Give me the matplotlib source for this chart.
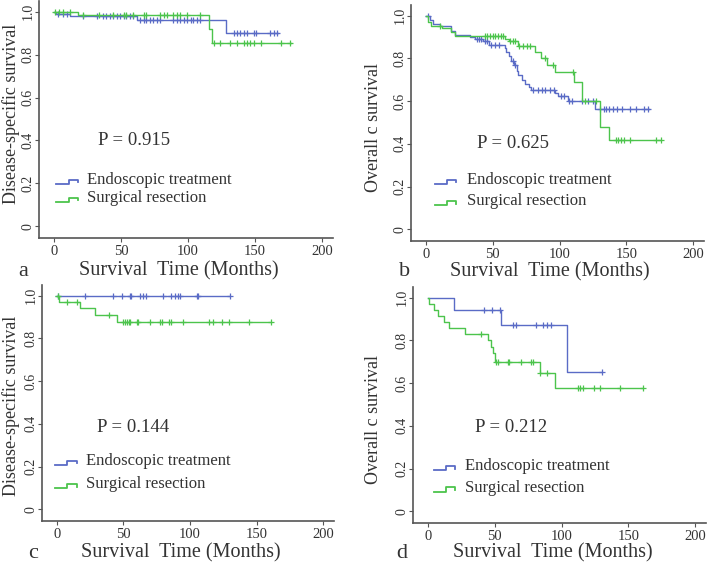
import numpy as np
import matplotlib
matplotlib.use("Agg")
import matplotlib.pyplot as plt

plt.rcParams["font.family"] = ["Liberation Serif", "DejaVu Serif"]

BLUE = "#5a6bc6"
GREEN = "#4cc44c"
TXT = "#333333"
AX = "#555555"

groups = ["Endoscopic treatment", "Surgical resection"]
x_ticks = [0, 50, 100, 150, 200]
y_ticks = [0, 0.2, 0.4, 0.6, 0.8, 1.0]
y_tick_labels = ["0", "0.2", "0.4", "0.6", "0.8", "1.0"]
panel_letters = ["a", "b", "c", "d"]
y_titles = ["Disease-specific survival", "Overall c survival",
            "Disease-specific survival", "Overall c survival"]
p_values = ["P = 0.915", "P = 0.625", "P = 0.144", "P = 0.212"]

# panel a
a_endo_t = [0, 2, 12, 62, 128.5]
a_endo_s = [1.0, 0.99, 0.98, 0.962, 0.90]
a_endo_end = 167
a_endo_cens = [3, 7, 9.5, 22, 32, 37, 39, 42, 44, 47, 49, 52, 54, 57, 59, 64, 67, 69,
               72, 74, 77, 79, 89, 92, 94, 97, 99, 102, 104, 107, 109, 134, 136.5, 139,
               141.5, 144, 149, 151, 161, 164, 166]
a_surg_t = [0, 18, 116, 117.5]
a_surg_s = [1.0, 0.983, 0.92, 0.852]
a_surg_end = 177
a_surg_cens = [1, 4, 7, 12, 22, 34, 44, 52, 54, 59, 67, 69, 79, 82, 84, 89, 92, 94, 99,
               109, 119, 124, 131.5, 136.5, 141.5, 144, 146.5, 149, 154, 169, 176]

# panel b
b_endo_t = [0, 3, 5.5, 11, 19, 22, 33, 37, 43, 47, 59, 60, 62, 64, 66, 68, 69, 72, 74,
            77, 79, 96.5, 99, 106.5, 126.5]
b_endo_s = [1.0, 0.98, 0.96, 0.95, 0.93, 0.91, 0.90, 0.89, 0.88, 0.865, 0.85, 0.83, 0.81,
            0.79, 0.77, 0.74, 0.72, 0.70, 0.68, 0.665, 0.65, 0.64, 0.625, 0.60, 0.565]
b_endo_end = 167
b_endo_cens = [2, 38, 40, 41, 44, 46, 49, 52, 55, 65, 67, 80, 84, 87, 89, 93, 96, 101,
               103, 107, 109, 117, 121, 125, 130, 133, 135, 137, 140, 143, 147, 153, 157,
               163, 166]
b_surg_t = [0, 2, 4, 12, 19, 22, 59, 62, 69, 81.5, 86.5, 91, 97, 111, 117, 130, 137]
b_surg_s = [1.0, 0.97, 0.95, 0.94, 0.925, 0.905, 0.89, 0.88, 0.86, 0.83, 0.80, 0.77,
            0.735, 0.69, 0.60, 0.48, 0.42]
b_surg_end = 176
b_surg_cens = [11, 44, 46, 48, 50, 52, 54, 56, 58, 63, 65, 67, 70, 73, 76, 78, 89, 95,
               110, 119, 127, 142, 144, 146, 148, 153, 172, 176]

# panel c
c_endo_t = [0]
c_endo_s = [1.0]
c_endo_end = 130
c_endo_cens = [1.25, 21, 42.5, 49, 55, 56, 62.5, 65, 67, 80, 86, 89, 91, 92.5, 105, 106, 130]
c_surg_t = [0, 1.75, 17.5, 29, 45]
c_surg_s = [1.0, 0.97, 0.94, 0.91, 0.875]
c_surg_end = 161
c_surg_cens = [1.25, 7.5, 15, 39.5, 50, 51, 52.5, 54, 55, 60, 61, 70, 77.5, 79, 84, 86,
               95, 114, 117.5, 124, 129, 144, 161]

# panel d
d_endo_t = [0, 20, 55, 104]
d_endo_s = [1.0, 0.94, 0.87, 0.65]
d_endo_end = 130
d_endo_cens = [42, 48, 54, 64, 66, 81, 86, 89, 92.5, 130]
d_surg_t = [0, 1, 5, 7.5, 12.5, 16, 27.5, 45, 47.5, 49, 50.5, 84, 95]
d_surg_s = [1.0, 0.97, 0.94, 0.915, 0.885, 0.86, 0.83, 0.80, 0.77, 0.74, 0.70, 0.645, 0.575]
d_surg_end = 161
d_surg_cens = [39.5, 51, 52.5, 60, 61, 70, 77.5, 79, 84, 89, 112, 114, 116, 124, 129, 144, 161]

panels = [
    [(a_endo_t, a_endo_s, a_endo_end, a_endo_cens), (a_surg_t, a_surg_s, a_surg_end, a_surg_cens)],
    [(b_endo_t, b_endo_s, b_endo_end, b_endo_cens), (b_surg_t, b_surg_s, b_surg_end, b_surg_cens)],
    [(c_endo_t, c_endo_s, c_endo_end, c_endo_cens), (c_surg_t, c_surg_s, c_surg_end, c_surg_cens)],
    [(d_endo_t, d_endo_s, d_endo_end, d_endo_cens), (d_surg_t, d_surg_s, d_surg_end, d_surg_cens)],
]

W, H = 710, 565
fig = plt.figure(figsize=(W / 100, H / 100), dpi=100)

# layout in pixels: left, right, top, bottom of each axes box
boxes = [(39, 333, 1, 238), (411, 704, 5, 241), (42, 334, 285, 521), (413, 706, 287, 523)]
# p-value text pos, legend pos (icon x start, text x, y of first row, row gap)
p_pos = [(33, 0.40), (38, 0.40), (30, 0.385), (35, 0.39)]
leg_pos = [(2, 25, 0.205, 0.085), (7, 31, 0.22, 0.10), (-1, 22, 0.216, 0.11), (4.5, 28, 0.20, 0.10)]
# xlabel center, panel letter, ylabel center (pixels)
xlab_px = [(179, 271), (550, 272), (181, 553), (553, 553)]
letter_px = [(23, 271), (405, 271), (33, 553), (402, 553)]
ylab_px = [(11, 114), (374, 128), (11, 406), (374, 420)]

colors = [BLUE, GREEN]

for i, (l, r, t, b) in enumerate(boxes):
    ax = fig.add_axes([l / W, 1 - b / H, (r - l) / W, (b - t) / H])
    ax.set_xlim(-11, 208)
    ax.set_ylim(-0.055, 1.05)
    for (times, surv, end, cens), col in zip(panels[i], colors):
        xs = list(times) + [end]
        ys = list(surv) + [surv[-1]]
        ax.step(xs, ys, where="post", color=col, lw=1.0)
        idx = np.searchsorted(times, cens, side="right") - 1
        cy = np.array(surv)[idx]
        ax.plot(cens, cy, "+", color=col, ms=4, mew=0.9)

    for s in ["top", "right"]:
        ax.spines[s].set_visible(False)
    for s in ["left", "bottom"]:
        ax.spines[s].set_color(AX)
        ax.spines[s].set_linewidth(1.2)
    ax.set_xticks(x_ticks)
    ax.set_yticks(y_ticks)
    ax.set_yticklabels(y_tick_labels, rotation=90, va="center")
    ax.tick_params(colors=AX, labelcolor=TXT, labelsize=10.5, length=3, width=0.8)
    ax.tick_params(axis="y", pad=0, labelsize=10)
    ax.tick_params(axis="x", pad=2)

    px, py = p_pos[i]
    ax.text(px, py, p_values[i], fontsize=13.5, color=TXT, va="center", ha="left")

    ix, tx, ly, gap = leg_pos[i]
    for k, (g, col) in enumerate(zip(groups, colors)):
        yy = ly - k * gap
        ax.plot([ix, ix + 9, ix + 9, ix + 16, ix + 16],
                [yy - 0.008, yy - 0.008, yy + 0.012, yy + 0.012, yy],
                color=col, lw=1.3)
        ax.text(tx, yy + 0.01, g, fontsize=12, color=TXT, va="center", ha="left")

    xl, yl = xlab_px[i]
    fig.text(xl / W, 1 - yl / H, "Survival  Time (Months)", fontsize=14.5,
             color=TXT, ha="center", va="center")
    lx, lyy = letter_px[i]
    fig.text(lx / W, 1 - lyy / H, panel_letters[i], fontsize=16, color=TXT,
             ha="center", va="center")
    yx, yyy = ylab_px[i]
    fig.text(yx / W, 1 - yyy / H, y_titles[i], fontsize=13, color=TXT,
             ha="center", va="center", rotation=90)

fig.savefig("out.png", dpi=100)
